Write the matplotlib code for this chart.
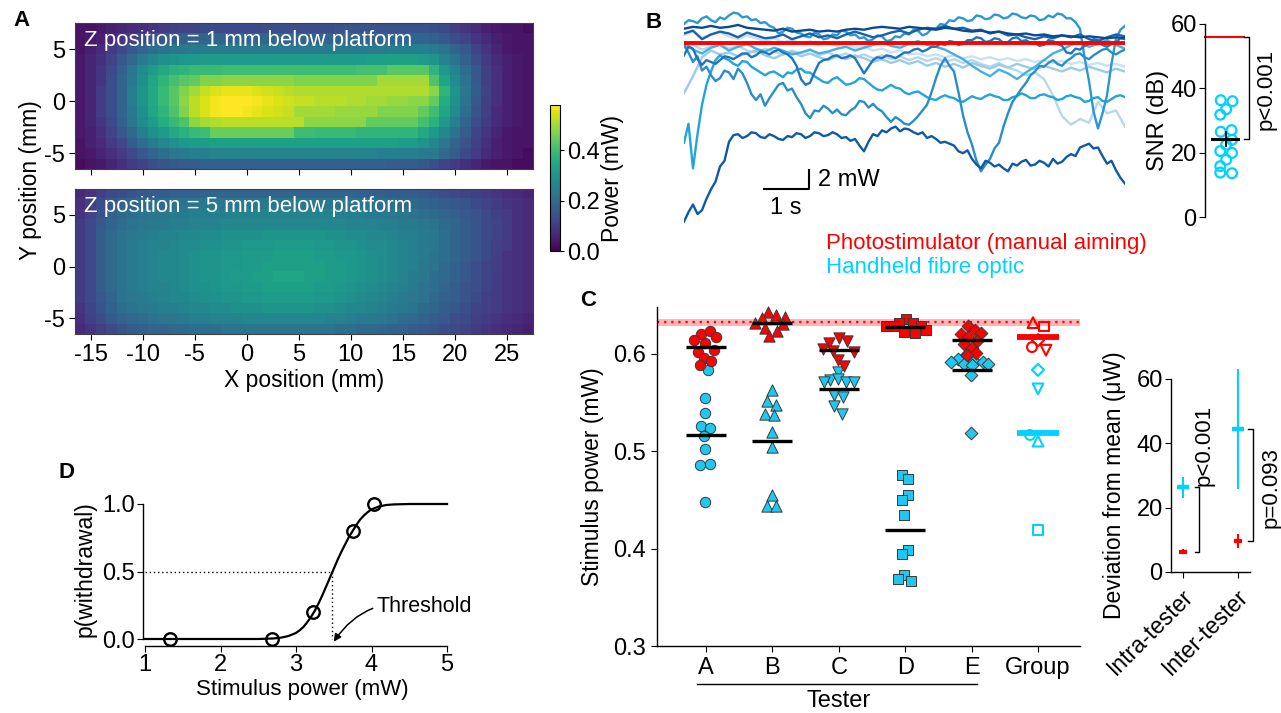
import matplotlib
matplotlib.use("Agg")
import matplotlib.pyplot as plt
import matplotlib.transforms as mtransforms
from matplotlib.ticker import FormatStrFormatter
import numpy as np

plt.rcParams["font.family"] = ["Liberation Sans Narrow", "Liberation Sans", "DejaVu Sans"]
plt.rcParams["font.size"] = 16
plt.rcParams["axes.unicode_minus"] = False
plt.rcParams["axes.linewidth"] = 1.0

W, H = 1281, 713
RED = "#ff0000"
CYAN = "#1ec8f0"
CYAN_OPEN = "#00d2ff"

# -------------------------
# Panel A data: power maps, hundredths of mW
# rows y = 7 ... -6 mm, cols x = -16 ... 27 mm
# -------------------------
POWER_Z1 = [
    [3, 3, 4, 5, 6, 7, 8, 9, 10, 11, 12, 12, 13, 13, 13, 13, 13, 13, 14, 14, 14, 14,
     14, 14, 14, 15, 15, 15, 15, 15, 15, 15, 15, 15, 14, 13, 11, 9, 7, 5, 4, 3, 3, 2],
    [3, 4, 5, 7, 9, 11, 13, 15, 16, 17, 18, 18, 19, 19, 19, 19, 19, 19, 19, 19, 19, 19,
     19, 19, 19, 19, 19, 19, 19, 19, 19, 19, 19, 19, 18, 16, 14, 12, 9, 7, 5, 4, 3, 3],
    [3, 5, 7, 10, 13, 16, 19, 21, 22, 23, 23, 24, 24, 24, 24, 24, 24, 24, 24, 24, 24, 24,
     24, 24, 24, 24, 24, 24, 24, 24, 25, 25, 25, 25, 24, 22, 19, 16, 12, 9, 6, 4, 3, 3],
    [4, 6, 8, 12, 16, 20, 24, 27, 29, 30, 31, 31, 32, 32, 32, 32, 32, 32, 32, 32, 32, 32,
     32, 32, 32, 32, 32, 32, 33, 33, 33, 33, 33, 32, 30, 26, 22, 18, 14, 10, 7, 5, 4, 3],
    [4, 6, 9, 13, 18, 23, 28, 32, 35, 37, 38, 39, 39, 39, 40, 40, 40, 40, 40, 40, 40, 40,
     40, 40, 40, 40, 40, 41, 41, 41, 43, 43, 43, 43, 38, 31, 26, 21, 16, 11, 8, 5, 4, 3],
    [4, 6, 9, 14, 19, 24, 29, 34, 38, 41, 43, 44, 47, 47, 48, 48, 48, 48, 48, 48, 48, 47,
     47, 47, 47, 47, 47, 47, 47, 50, 50, 50, 50, 50, 42, 34, 28, 22, 16, 11, 8, 5, 4, 3],
    [4, 6, 10, 14, 19, 25, 30, 35, 39, 43, 47, 50, 53, 55, 56, 56, 56, 55, 54, 53, 52, 51,
     51, 51, 51, 51, 51, 51, 51, 51, 51, 51, 51, 51, 48, 38, 30, 23, 17, 12, 8, 5, 4, 3],
    [4, 6, 10, 14, 19, 25, 30, 35, 39, 43, 48, 52, 55, 57, 58, 58, 58, 57, 56, 55, 54, 53,
     53, 52, 52, 52, 51, 51, 50, 50, 49, 49, 48, 48, 44, 36, 29, 22, 16, 11, 8, 5, 4, 3],
    [4, 6, 10, 14, 19, 24, 29, 34, 38, 42, 47, 52, 55, 57, 58, 58, 57, 56, 55, 54, 53, 50,
     50, 50, 50, 49, 49, 49, 49, 47, 47, 47, 47, 44, 40, 34, 28, 21, 15, 11, 7, 5, 4, 3],
    [4, 6, 9, 13, 18, 23, 28, 32, 36, 39, 42, 48, 50, 51, 52, 52, 52, 52, 52, 52, 52, 52,
     48, 48, 48, 48, 48, 48, 44, 44, 44, 44, 44, 41, 37, 31, 25, 19, 14, 10, 7, 5, 4, 3],
    [4, 5, 8, 12, 16, 20, 25, 29, 32, 35, 37, 39, 40, 45, 45, 45, 45, 45, 45, 45, 45, 40,
     40, 39, 39, 39, 39, 38, 38, 38, 38, 38, 38, 35, 31, 27, 22, 17, 12, 9, 6, 4, 3, 3],
    [3, 5, 7, 10, 13, 17, 21, 24, 27, 29, 31, 32, 32, 33, 33, 33, 33, 33, 33, 33, 33, 33,
     33, 33, 33, 33, 33, 33, 33, 33, 33, 32, 32, 30, 27, 23, 19, 15, 11, 8, 5, 4, 3, 3],
    [3, 4, 6, 8, 10, 13, 16, 19, 21, 23, 24, 25, 25, 26, 26, 26, 26, 26, 26, 26, 26, 26,
     26, 26, 26, 26, 26, 26, 26, 25, 25, 25, 25, 24, 23, 20, 17, 13, 10, 7, 5, 4, 3, 2],
    [2, 3, 4, 6, 8, 10, 12, 14, 15, 16, 17, 17, 18, 18, 18, 18, 18, 18, 18, 18, 18, 18,
     18, 18, 18, 18, 18, 18, 18, 18, 17, 17, 17, 16, 14, 12, 10, 8, 6, 4, 3, 3, 2, 2],
]

POWER_Z5 = [
    [7, 9, 11, 13, 14, 15, 16, 17, 17, 18, 18, 18, 19, 19, 19, 19, 19, 19, 19, 19, 19, 19,
     19, 19, 19, 19, 19, 18, 18, 18, 17, 17, 17, 16, 15, 14, 13, 12, 11, 10, 9, 8, 7, 6],
    [8, 11, 14, 16, 18, 19, 20, 21, 21, 22, 22, 22, 23, 23, 23, 23, 23, 23, 23, 23, 23, 23,
     23, 23, 23, 23, 22, 22, 22, 21, 21, 20, 20, 19, 18, 17, 16, 15, 13, 12, 10, 9, 8, 7],
    [9, 12, 15, 18, 20, 21, 22, 23, 23, 24, 24, 25, 25, 25, 25, 26, 26, 26, 26, 26, 26, 26,
     26, 26, 26, 25, 25, 25, 24, 24, 23, 23, 22, 21, 20, 19, 18, 16, 15, 13, 11, 10, 8, 7],
    [10, 13, 16, 19, 21, 22, 23, 24, 24, 25, 25, 26, 26, 26, 27, 27, 27, 27, 27, 27, 27, 27,
     27, 27, 27, 27, 26, 26, 26, 25, 25, 24, 24, 23, 22, 20, 19, 17, 15, 13, 12, 10, 8, 7],
    [10, 13, 17, 20, 22, 23, 24, 25, 26, 26, 27, 27, 28, 28, 29, 29, 29, 29, 30, 30, 30, 30,
     30, 30, 29, 29, 28, 28, 27, 27, 26, 25, 25, 24, 23, 21, 19, 17, 15, 13, 12, 10, 8, 7],
    [10, 13, 17, 20, 22, 24, 25, 26, 26, 27, 28, 28, 29, 29, 30, 30, 31, 31, 31, 32, 32, 32,
     32, 31, 31, 30, 30, 29, 28, 28, 27, 26, 25, 24, 23, 21, 19, 17, 15, 13, 11, 10, 8, 7],
    [10, 13, 17, 20, 22, 24, 25, 26, 27, 27, 28, 29, 30, 30, 31, 31, 32, 32, 32, 33, 33, 33,
     33, 32, 32, 31, 31, 30, 29, 28, 27, 26, 25, 24, 22, 21, 19, 17, 15, 13, 11, 9, 8, 7],
    [10, 13, 17, 20, 22, 24, 25, 26, 27, 27, 28, 29, 30, 30, 31, 31, 32, 32, 33, 33, 33, 33,
     33, 33, 32, 32, 31, 30, 29, 28, 27, 26, 25, 23, 22, 20, 18, 16, 14, 12, 11, 9, 8, 7],
    [10, 13, 17, 20, 22, 24, 25, 26, 27, 27, 28, 29, 30, 30, 31, 32, 32, 33, 33, 34, 34, 34,
     33, 33, 32, 32, 31, 30, 29, 28, 27, 26, 24, 23, 21, 20, 18, 16, 14, 12, 10, 9, 8, 7],
    [10, 13, 17, 20, 22, 24, 25, 26, 26, 27, 28, 29, 29, 30, 31, 31, 32, 32, 33, 33, 33, 33,
     33, 32, 32, 31, 30, 29, 28, 27, 26, 25, 24, 22, 21, 19, 17, 15, 14, 12, 10, 9, 8, 7],
    [10, 13, 16, 19, 22, 23, 24, 25, 26, 27, 27, 28, 29, 29, 30, 30, 31, 31, 32, 32, 32, 32,
     32, 31, 31, 30, 29, 28, 27, 26, 25, 24, 23, 22, 20, 18, 17, 15, 13, 11, 10, 9, 8, 7],
    [9, 12, 15, 18, 21, 22, 23, 24, 25, 25, 26, 27, 27, 28, 28, 29, 29, 29, 30, 30, 30, 30,
     30, 29, 29, 28, 27, 27, 26, 25, 24, 23, 22, 20, 19, 17, 16, 14, 12, 11, 10, 9, 8, 7],
    [8, 11, 14, 17, 19, 20, 21, 22, 23, 23, 24, 25, 25, 26, 26, 26, 27, 27, 27, 27, 27, 27,
     27, 27, 26, 26, 25, 24, 24, 23, 22, 21, 20, 19, 17, 16, 14, 13, 11, 10, 9, 8, 7, 6],
    [7, 9, 11, 13, 15, 17, 18, 19, 19, 20, 20, 21, 21, 21, 22, 22, 22, 22, 22, 22, 22, 22,
     22, 22, 22, 21, 21, 20, 20, 19, 18, 18, 17, 16, 15, 14, 13, 12, 10, 9, 8, 7, 6, 5],
]
MAP_X_TICKS = [-15, -10, -5, 0, 5, 10, 15, 20, 25]
MAP_Y_TICKS = [-5, 0, 5]
MAP_DEPTHS = [1, 5]

# -------------------------
# Panel B data: power traces (mW)
# coarse traces sampled every 0.2 s, fine traces every 0.1 s
# -------------------------
TRACE_T = [round(0.2 * i, 1) for i in range(50)]
TRACE_T_FINE = [round(0.1 * i, 1) for i in range(99)]
PHOTO_TRACE_MW = 20.0
TRACE_NAVY_LOW = [
    1.2, 2.2, 3.0, 2.0, 2.4, 3.6, 4.6, 5.4, 7.0, 7.6,
    9.6, 10.3, 10.4, 10.0, 10.2, 10.6, 10.5, 10.1, 10.0, 10.4,
    10.2, 9.9, 9.8, 10.2, 10.1, 10.5, 10.4, 10.0, 10.2, 10.6,
    10.5, 10.2, 10.3, 10.6, 10.4, 10.0, 10.1, 9.7, 9.9, 9.2,
    8.6, 9.6, 10.4, 10.2, 10.8, 10.6, 11.0, 11.2, 10.7, 11.0,
    10.9, 10.6, 10.4, 10.6, 10.0, 10.2, 9.9, 9.5, 9.6, 9.4,
    9.2, 8.6, 8.4, 8.7, 7.8, 7.2, 6.8, 7.6, 7.4, 7.0,
    7.2, 6.8, 6.5, 7.3, 7.1, 7.5, 7.7, 7.1, 7.2, 7.6,
    7.4, 7.0, 7.8, 7.3, 7.5, 8.0, 8.3, 8.1, 9.0, 9.2,
    9.4, 8.9, 9.0, 8.1, 7.3, 7.6, 6.6, 5.8, 5.2]
TRACE_DIPPER = [
    19.8, 19.0, 18.0, 18.6, 17.1, 17.5, 16.6, 16.0, 16.3, 17.1,
    16.9, 16.2, 17.3, 16.8, 15.8, 14.6, 14.0, 14.6, 13.4, 14.2,
    14.9, 15.6, 15.8, 15.0, 15.2, 14.3, 13.6, 12.6, 12.1, 12.9,
    12.8, 13.4, 13.1, 12.6, 13.0, 12.5, 12.4, 12.9, 13.2, 13.9,
    13.8, 13.2, 13.6, 13.1, 12.8, 12.2, 11.7, 12.2, 11.9, 11.5,
    11.4, 11.8, 12.3, 12.9, 13.5, 14.8, 16.3, 17.6, 18.4, 17.6,
    17.0, 14.8, 12.4, 10.6, 9.3, 7.6, 6.5, 7.2, 7.8, 8.9,
    9.5, 11.2, 12.6, 13.8, 14.5, 15.2, 15.8, 16.6, 17.0, 17.6,
    17.5, 17.9, 18.2, 17.8, 17.6, 18.1, 18.4, 18.8, 18.9, 18.5,
    18.3, 18.7, 19.0, 19.3, 19.4, 19.0, 18.8, 19.1, 19.3]
TRACE_CYAN = [
    9.5, 11.5, 6.8, 10.4, 13.5, 15.6, 17.0, 18.2, 18.7, 18.4,
    18.2, 17.8, 17.6, 18.1, 18.0, 17.5, 17.2, 16.9, 16.6, 16.9,
    17.0, 16.7, 16.4, 16.9, 16.8, 17.2, 17.3, 16.9, 16.9, 16.5,
    16.2, 15.9, 15.8, 16.2, 16.4, 16.0, 15.6, 15.7, 15.9, 16.3,
    16.2, 15.8, 15.4, 15.1, 15.0, 15.3, 15.6, 15.3, 15.2, 14.8,
    14.6, 14.8, 14.9, 14.6, 14.3, 14.1, 14.0, 14.3, 14.5, 14.3,
    14.2, 13.9, 13.8, 14.1, 14.4, 14.2, 14.1, 14.4, 14.6, 14.4,
    14.3, 14.0, 14.0, 14.3, 14.4, 14.7, 14.5, 14.2, 14.2, 14.5,
    14.6, 14.4, 14.3, 14.0, 14.1, 14.4, 14.5, 14.3, 14.2, 13.8,
    13.9, 14.2, 14.3, 13.9, 13.8, 14.1, 14.4, 14.5, 14.3]
TRACE_HIGH = [
    22.0, 22.4, 22.3, 22.1, 22.6, 22.8, 22.4, 22.2, 22.7, 22.5,
    22.9, 23.2, 23.1, 22.7, 22.8, 22.4, 22.5, 22.1, 22.2, 21.8,
    21.6, 21.0, 21.2, 21.6, 21.5, 21.1, 21.0, 20.7, 20.6, 21.1,
    20.9, 20.4, 20.5, 20.9, 20.8, 21.3, 21.2, 20.8, 20.9, 20.5,
    20.6, 20.2, 20.4, 20.8, 20.7, 20.2, 20.3, 20.7, 20.6, 21.0,
    20.9, 21.4, 21.3, 20.8, 21.0, 21.5, 21.5, 22.0, 21.9, 22.4,
    22.3, 22.7, 22.6, 22.3, 22.4, 22.9, 22.8, 22.5, 22.6, 23.0,
    22.9, 22.6, 22.7, 23.1, 23.0, 22.7, 22.6, 22.9, 22.8, 22.4,
    22.5, 22.9, 22.7, 23.1, 23.0, 22.6, 22.6, 22.2, 21.5, 18.5,
    16.0, 12.8, 11.0, 12.6, 14.5, 17.8, 20.5, 21.4, 21.8]
TRACE_BLUE = [
    18.7, 19.6, 19.4, 18.3, 17.7, 18.2, 18.0, 17.8, 18.2, 18.6,
    18.5, 18.3, 18.6, 18.9, 18.9, 18.5, 18.7, 19.1, 19.0, 18.8,
    19.1, 19.3, 19.0, 18.8, 18.4, 17.6, 16.2, 15.6, 15.8, 16.9,
    17.9, 18.2, 18.3, 18.6, 18.7, 18.4, 18.5, 18.7, 18.4, 17.6,
    16.8, 17.5, 18.2, 18.5, 18.4, 18.7, 18.6, 18.4, 18.7, 19.0,
    19.0, 19.3, 19.4, 19.1, 19.3, 19.6, 19.6, 19.9, 19.8, 20.2,
    20.1, 19.8, 19.9, 20.3, 20.3, 20.6, 20.5, 20.1, 20.2, 20.5,
    20.4, 20.0, 20.1, 20.5, 20.6, 20.2, 20.3, 20.0, 20.0, 19.7,
    19.8, 20.3, 20.2, 19.9, 19.7, 19.0, 18.9, 19.4, 19.3, 19.7,
    19.9, 20.4, 20.3, 19.8, 19.6, 19.9, 20.1, 20.5, 20.4]
TRACE_NAVY_TOP = [
    21.5, 21.7, 21.6, 21.8, 21.6, 21.7, 21.9, 21.6, 21.5, 21.4,
    21.3, 21.5, 21.2, 21.3, 21.4, 21.2, 21.3, 21.2, 21.4, 21.5,
    21.4, 21.6, 21.7, 21.6, 21.5, 21.7, 21.6, 21.5, 21.4, 21.6,
    21.5, 21.3, 21.2, 21.3, 21.1, 21.2, 21.0, 20.9, 21.0, 20.8,
    20.9, 20.7, 20.8, 20.7, 20.6, 20.7, 20.6, 20.5, 20.6, 20.5]
TRACE_DARK = [
    21.0, 21.3, 20.4, 20.9, 21.2, 21.0, 20.6, 21.1, 20.8, 20.5,
    20.6, 20.9, 20.4, 20.7, 21.0, 20.6, 20.8, 20.5, 20.9, 21.2,
    20.9, 20.6, 20.8, 21.1, 21.3, 21.0, 21.4, 21.6, 21.5, 21.8,
    21.5, 21.6, 21.3, 21.4, 21.0, 21.2, 20.8, 20.9, 20.6, 20.4,
    20.7, 20.5, 20.8, 20.6, 20.9, 20.4, 20.2, 20.6, 20.9, 20.7]
TRACE_LIGHT_1 = [
    14.7, 16.5, 18.5, 19.2, 18.8, 19.0, 18.6, 18.9, 19.2, 18.7,
    18.4, 18.8, 19.1, 18.6, 18.9, 18.5, 18.2, 18.6, 18.3, 18.7,
    18.4, 18.0, 18.3, 17.9, 18.2, 17.8, 18.1, 17.6, 17.9, 17.5,
    17.8, 17.4, 17.9, 17.6, 17.3, 17.7, 17.4, 17.8, 17.5, 17.2,
    17.6, 17.3, 17.0, 17.4, 17.1, 17.5, 17.2, 16.9, 17.3, 17.0]
TRACE_LIGHT_2 = [
    19.5, 19.8, 19.3, 19.6, 19.9, 19.4, 19.7, 19.2, 19.0, 19.4,
    19.1, 18.8, 19.2, 18.9, 19.3, 18.7, 19.0, 18.6, 18.9, 18.5,
    18.8, 18.4, 18.7, 18.3, 18.6, 18.2, 18.5, 18.1, 18.4, 18.0,
    18.3, 17.9, 18.2, 17.8, 17.5, 17.9, 17.4, 17.1, 16.6, 16.9,
    16.2, 14.5, 12.3, 11.4, 12.0, 11.6, 13.8, 12.6, 12.9, 11.2]
TRACE_LIGHT_3 = [
    20.8, 21.2, 20.6, 20.9, 21.1, 20.7, 20.4, 20.8, 20.5, 20.2,
    20.5, 20.1, 20.3, 19.9, 20.2, 19.8, 20.0, 19.7, 19.9, 19.5,
    19.6, 19.2, 19.4, 19.0, 19.2, 18.8, 18.9, 18.6, 18.8, 18.5,
    18.7, 18.4, 18.6, 18.3, 18.5, 18.2, 18.4, 18.1, 18.3, 18.0,
    18.2, 17.9, 18.1, 17.8, 18.0, 17.7, 17.9, 17.6, 17.8, 17.5]
TRACE_MID = [
    20.0, 19.3, 18.9, 19.5, 19.8, 19.2, 19.6, 19.9, 19.4, 19.1,
    19.5, 19.2, 18.8, 19.0, 19.3, 18.9, 19.1, 19.4, 19.6, 19.2,
    19.5, 19.8, 20.1, 19.7, 19.5, 19.9, 20.2, 19.8, 19.6, 19.3,
    18.8, 18.3, 17.6, 17.0, 16.5, 17.2, 16.8, 16.2, 16.9, 17.5,
    18.2, 18.9, 19.3, 19.8, 20.1, 19.6, 19.9, 20.3, 19.8, 19.4]

SNR_DB = [36.3, 36.0, 33.5, 31.8, 27.0, 26.5, 24.0, 22.5, 20.5, 19.9, 17.8, 15.8, 13.8, 13.6]
SNR_PHOTO_DB = 56.0

# -------------------------
# Panel C data: thresholds (mW) per tester
# -------------------------
TESTERS = ["A", "B", "C", "D", "E"]
PHOTO_A = [0.6205, 0.623, 0.617, 0.614, 0.611, 0.604, 0.602, 0.596, 0.593, 0.588]
PHOTO_B = [0.6428, 0.640, 0.638, 0.6366, 0.6315, 0.6308, 0.6264, 0.6229, 0.6185]
PHOTO_C = [0.611, 0.616, 0.6127, 0.6047, 0.6024, 0.6014, 0.594, 0.587]
PHOTO_D = [0.636, 0.6314, 0.6314, 0.628, 0.628, 0.628, 0.6222, 0.6212, 0.624]
PHOTO_E = [0.628, 0.624, 0.621, 0.620, 0.617, 0.613, 0.610, 0.606, 0.601, 0.599]
FIBRE_A = [0.5836, 0.555, 0.539, 0.526, 0.524, 0.516, 0.502, 0.486, 0.487, 0.448]
FIBRE_B = [0.563, 0.551, 0.547, 0.5385, 0.5375, 0.5197, 0.5039, 0.4554, 0.4434, 0.4434]
FIBRE_C = [0.5809, 0.573, 0.574, 0.5715, 0.571, 0.5705, 0.558, 0.556, 0.546, 0.5385]
FIBRE_D = [0.4759, 0.4718, 0.4554, 0.4503, 0.4349, 0.3983, 0.3949, 0.3733, 0.3689, 0.3672]
FIBRE_E = [0.599, 0.5945, 0.593, 0.592, 0.592, 0.590, 0.589, 0.588, 0.5785, 0.5187]
PHOTO_REF_MW = 0.6325
PHOTO_REF_SD = 0.0035

# horizontal spread of the points, in pixels
PHOTO_A_DX = [-5, 4, 10, -12, -1, 8, -8, -2, 5, -6]
PHOTO_B_DX = [-4, 4, 13, -10, -17, 11, -7, 5, -3]
PHOTO_C_DX = [-10, 0, 8, -16, -6, 15, -1, 5]
PHOTO_D_DX = [1, -6, 8, -19, -11, 16, -1, 10, 21]
PHOTO_E_DX = [-4, 3, 9, -11, -4, 5, -8, 0, 4, -5]
FIBRE_A_DX = [2, -1, -1, -5, 4, -2, -1, -6, 4, -1]
FIBRE_B_DX = [0, -5, 4, -7, 2, 0, 0, 0, -5, 4]
FIBRE_C_DX = [-1, -9, -1, 7, 15, -15, -5, 4, -5, 3]
FIBRE_D_DX = [-3, 3, 3, -3, -1, 3, -3, -1, -7, 6]
FIBRE_E_DX = [-6, -14, 2, -21, 11, 16, -8, 0, -1, -1]
GROUP_PHOTO_DX = [-6, -5, 8, 6, 0]
GROUP_FIBRE_DX = [-8, 0, 0, 0, 0]
MARKERS = {"A": "o", "B": "^", "C": "v", "D": "s", "E": "D"}
MARKER_AREA = {"A": 56, "B": 66, "C": 66, "D": 48, "E": 42}

DEV_LABELS = ["Intra-tester", "Inter-tester"]
DEV_PHOTO = [6.3, 9.6]
DEV_PHOTO_ERR = [0.5, 1.8]
DEV_FIBRE = [26.3, 44.5]
DEV_FIBRE_ERR = [3.0, 18.3]
DEV_P = ["p<0.001", "p=0.093"]

# -------------------------
# Panel D data
# -------------------------
D_STIM = [1.33, 2.68, 3.22, 3.76, 4.03]
D_PWITH = [0.0, 0.0, 0.2, 0.8, 1.0]
D_FIT_X = [1.0, 2.0, 2.5, 2.7, 2.8, 2.9, 3.0, 3.05, 3.1, 3.15, 3.2, 3.25, 3.3, 3.35, 3.4,
           3.45, 3.5, 3.55, 3.6, 3.65, 3.7, 3.75, 3.8, 3.85, 3.9, 3.95, 4.0, 4.1, 4.2,
           4.3, 4.5, 5.0]
D_FIT_Y = [0.0, 0.0, 0.0, 0.004, 0.01, 0.022, 0.045, 0.065, 0.09, 0.125, 0.165, 0.21,
           0.265, 0.325, 0.39, 0.455, 0.52, 0.585, 0.645, 0.70, 0.755, 0.80, 0.845, 0.885,
           0.915, 0.94, 0.96, 0.982, 0.993, 0.997, 1.0, 1.0]
D_THRESHOLD = 3.48


def px_axes(fig, left, top, right, bottom):
    return fig.add_axes([left / W, 1 - bottom / H, (right - left) / W, (bottom - top) / H])


def fig_text(fig, x, y, s, **kw):
    return fig.text(x / W, 1 - y / H, s, **kw)


def panel_letter(fig, x, y, s):
    fig_text(fig, x, y, s, ha="center", va="center", fontsize=16, fontweight="bold",
             family=["Liberation Sans", "DejaVu Sans"])


# -------------------------
# Panel A
# -------------------------
def draw_panel_a(fig):
    panel_letter(fig, 21, 21, "A")
    boxes = [(75, 23, 533, 169), (75, 189, 533, 334)]
    img = None
    for box, grid, depth in zip(boxes, (POWER_Z1, POWER_Z5), MAP_DEPTHS):
        ax = px_axes(fig, *box)
        img = ax.imshow(np.array(grid) / 100.0, cmap="viridis", vmin=0, vmax=0.58,
                        extent=(-16.5, 27.5, -6.5, 7.5), aspect="auto",
                        interpolation="nearest")
        ax.set_xticks(MAP_X_TICKS)
        ax.set_yticks(MAP_Y_TICKS)
        ax.set_yticklabels([str(v) for v in MAP_Y_TICKS])
        ax.tick_params(labelsize=17, length=4, pad=3)
        ax.text(0.02, 0.955, f"Z position = {depth} mm below platform", transform=ax.transAxes,
                color="white", va="top", ha="left", fontsize=16)
        for s in ax.spines.values():
            s.set_color("#404040")
            s.set_linewidth(0.8)
        if depth == 1:
            ax.tick_params(axis="x", labelbottom=False)
        else:
            ax.set_xticklabels([str(v) for v in MAP_X_TICKS])
    fig_text(fig, 304, 381, "X position (mm)", ha="center", va="center", fontsize=16.5)
    fig_text(fig, 31, 180, "Y position (mm)", ha="center", va="center", rotation=90,
             fontsize=16.5)

    cax = px_axes(fig, 550, 105, 560, 251)
    cb = fig.colorbar(img, cax=cax, ticks=[0.0, 0.2, 0.4])
    cb.ax.yaxis.set_major_formatter(FormatStrFormatter("%.1f"))
    cb.ax.tick_params(labelsize=17, length=3, pad=2)
    cb.outline.set_linewidth(0.8)
    fig_text(fig, 612, 178, "Power (mW)", ha="center", va="center", rotation=90,
             fontsize=16.5)


# -------------------------
# Panel B
# -------------------------
def draw_panel_b(fig):
    panel_letter(fig, 654, 23, "B")
    ax = px_axes(fig, 684, 10, 1125, 225)
    ax.set_xlim(0, 9.8)
    ax.set_ylim(20 - (225 - 43) / 9.5, 20 + (43 - 10) / 9.5)
    ax.axis("off")
    traces = [
        (TRACE_T, TRACE_LIGHT_3, "#c9e1f2"), (TRACE_T, TRACE_LIGHT_2, "#b5d8ee"),
        (TRACE_T, TRACE_LIGHT_1, "#9ccbe7"), (TRACE_T, TRACE_MID, "#47afe0"),
        (TRACE_T_FINE, TRACE_CYAN, "#22a5da"), (TRACE_T_FINE, TRACE_HIGH, "#2b98d3"),
        (TRACE_T_FINE, TRACE_DIPPER, "#2a8dcb"), (TRACE_T_FINE, TRACE_BLUE, "#1f76bc"),
        (TRACE_T, TRACE_DARK, "#1763ab"), (TRACE_T, TRACE_NAVY_TOP, "#0b4a92"),
        (TRACE_T_FINE, TRACE_NAVY_LOW, "#0e5aa6"),
    ]
    for ts, vals, color in traces:
        ax.plot(ts, vals, color=color, lw=1.7, solid_joinstyle="round")
    ax.plot(TRACE_T, [PHOTO_TRACE_MW] * len(TRACE_T), color=RED, lw=2.8, zorder=5)

    # scale bar: 1 s, 2 mW
    ax.plot([1.78, 2.78, 2.78], [4.63, 4.63, 6.63], color="k", lw=1.5, clip_on=False)
    ax.text(2.98, 5.6, "2 mW", ha="left", va="center", fontsize=17)
    ax.text(2.25, 2.6, "1 s", ha="center", va="center", fontsize=17)

    fig_text(fig, 826, 243, "Photostimulator (manual aiming)", color=RED, ha="left",
             va="center", fontsize=16)
    fig_text(fig, 826, 268, "Handheld fibre optic", color=CYAN_OPEN, ha="left",
             va="center", fontsize=16)

    # SNR inset
    sx = px_axes(fig, 1205, 24, 1250, 217)
    sx.set_xlim(0, 1)
    sx.set_ylim(0, 60)
    for side in ("top", "right", "bottom"):
        sx.spines[side].set_visible(False)
    sx.set_xticks([])
    sx.set_yticks([0, 20, 40, 60])
    sx.tick_params(labelsize=17, length=4, pad=2)
    snr_dx = [-0.12, 0.14, 0.0, -0.13, 0.12, -0.12, 0.13, 0.0, -0.13, 0.13, 0.0, -0.13, -0.13, 0.13]
    sx.scatter([0.47 + d for d in snr_dx], SNR_DB, s=50, facecolors="none",
               edgecolors=CYAN_OPEN, linewidths=1.6, clip_on=False, zorder=3)
    m = float(np.mean(SNR_DB))
    sem = float(np.std(SNR_DB, ddof=1) / np.sqrt(len(SNR_DB)))
    sx.plot([0.16, 0.73], [m, m], color="k", lw=2.2, zorder=4)
    sx.plot([0.47, 0.47], [m - sem, m + sem], color="k", lw=1.3, zorder=4)
    sx.plot([0.0, 0.87], [SNR_PHOTO_DB] * 2, color=RED, lw=1.5, clip_on=False)
    sx.plot([0.87, 0.98, 0.98, 0.87], [SNR_PHOTO_DB, SNR_PHOTO_DB, m, m], color="k",
            lw=1.0, clip_on=False)
    sx.text(1.36, 39.8, "p<0.001", rotation=90, ha="center", va="center", fontsize=16,
            clip_on=False)
    fig_text(fig, 1158, 120, "SNR (dB)", rotation=90, ha="center", va="center", fontsize=17)


# -------------------------
# Panel C
# -------------------------
def draw_panel_c(fig):
    panel_letter(fig, 588, 300, "C")
    ax = px_axes(fig, 657, 307, 1080, 646)
    unit = 66.4
    ax.set_xlim(-49 / unit, 374 / unit)
    ax.set_ylim(0.3, 0.648)
    ax.spines["top"].set_visible(False)
    ax.spines["right"].set_visible(False)

    ax.axhspan(PHOTO_REF_MW - PHOTO_REF_SD, PHOTO_REF_MW + PHOTO_REF_SD, color="#ffb5b5",
               lw=0, zorder=0)
    ax.axhline(PHOTO_REF_MW, color=RED, ls=(0, (1, 2.2)), lw=1.6, zorder=1)

    photo = dict(zip(TESTERS, [PHOTO_A, PHOTO_B, PHOTO_C, PHOTO_D, PHOTO_E]))
    fibre = dict(zip(TESTERS, [FIBRE_A, FIBRE_B, FIBRE_C, FIBRE_D, FIBRE_E]))
    photo_dx = dict(zip(TESTERS, [PHOTO_A_DX, PHOTO_B_DX, PHOTO_C_DX, PHOTO_D_DX, PHOTO_E_DX]))
    fibre_dx = dict(zip(TESTERS, [FIBRE_A_DX, FIBRE_B_DX, FIBRE_C_DX, FIBRE_D_DX, FIBRE_E_DX]))

    means_photo, means_fibre = [], []
    for i, t in enumerate(TESTERS):
        for vals, dx, color, store in ((fibre[t], fibre_dx[t], CYAN, means_fibre),
                                       (photo[t], photo_dx[t], RED, means_photo)):
            xs = [i + d / unit for d in dx]
            ax.scatter(xs, vals, marker=MARKERS[t], s=MARKER_AREA[t], c=color,
                       edgecolors="#3a3a3a", linewidths=0.7, zorder=3, clip_on=False)
            mu = float(np.mean(vals))
            store.append(mu)
            ax.plot([i - 0.3, i + 0.3], [mu, mu], color="k", lw=2.4, zorder=4,
                    solid_capstyle="butt")

    g = len(TESTERS)
    for means, dxs, color in ((means_photo, GROUP_PHOTO_DX, RED),
                              (means_fibre, GROUP_FIBRE_DX, CYAN_OPEN)):
        for t, mu, d in zip(TESTERS, means, dxs):
            ax.scatter([g + d / unit], [mu], marker=MARKERS[t], s=MARKER_AREA[t] * 0.9,
                       facecolors="none", edgecolors=color, linewidths=1.5, zorder=3)
        gm = float(np.mean(means))
        ax.plot([g - 0.32, g + 0.32], [gm, gm], color=color, lw=4.2, zorder=4,
                solid_capstyle="butt")

    ax.set_xticks(range(len(TESTERS) + 1))
    ax.set_xticklabels(TESTERS + ["Group"])
    ax.set_yticks([0.3, 0.4, 0.5, 0.6])
    ax.yaxis.set_major_formatter(FormatStrFormatter("%.1f"))
    ax.tick_params(labelsize=17, length=4, pad=4)

    trans = mtransforms.blended_transform_factory(ax.transData, ax.transAxes)
    ax.plot([-9 / unit, 271 / unit], [-38 / 339] * 2, color="k", lw=1.0, transform=trans,
            clip_on=False)
    ax.text(2.0, -55 / 339, "Tester", transform=trans, ha="center", va="center",
            fontsize=17)
    fig_text(fig, 593, 477, "Stimulus power (mW)", rotation=90, ha="center", va="center",
             fontsize=16.5)

    # deviation inset
    dx_ax = px_axes(fig, 1171, 379, 1250, 572)
    dx_ax.set_xlim(-12 / 55, 67 / 55)
    dx_ax.set_ylim(0, 60)
    dx_ax.spines["top"].set_visible(False)
    dx_ax.spines["right"].set_visible(False)
    for i in range(len(DEV_LABELS)):
        dx_ax.plot([i - 0.11, i + 0.11], [DEV_FIBRE[i]] * 2, color=CYAN_OPEN, lw=3.2,
                   solid_capstyle="butt", clip_on=False)
        dx_ax.plot([i, i], [DEV_FIBRE[i] - DEV_FIBRE_ERR[i], DEV_FIBRE[i] + DEV_FIBRE_ERR[i]],
                   color=CYAN_OPEN, lw=1.5, clip_on=False)
        dx_ax.plot([i - 0.08, i + 0.08], [DEV_PHOTO[i]] * 2, color=RED, lw=3.0,
                   solid_capstyle="butt", clip_on=False)
        dx_ax.plot([i, i], [DEV_PHOTO[i] - DEV_PHOTO_ERR[i], DEV_PHOTO[i] + DEV_PHOTO_ERR[i]],
                   color=RED, lw=1.5, clip_on=False)
    for i, (bx, tx, ty) in enumerate([(0.29, 0.38, 39.2), (1.27, 1.6, 26.1)]):
        dx_ax.plot([bx - 0.08, bx, bx, bx - 0.08],
                   [DEV_FIBRE[i], DEV_FIBRE[i], DEV_PHOTO[i], DEV_PHOTO[i]],
                   color="k", lw=1.0, clip_on=False)
        dx_ax.text(tx, ty, DEV_P[i], rotation=90, ha="center", va="center", fontsize=16,
                   clip_on=False)
    dx_ax.set_yticks([0, 20, 40, 60])
    dx_ax.set_xticks([0, 1])
    dx_ax.set_xticklabels([])
    dx_ax.tick_params(labelsize=17, length=4, pad=2)
    base = mtransforms.blended_transform_factory(dx_ax.transData, dx_ax.transAxes)
    shift = mtransforms.ScaledTranslation(0.07, -0.21, fig.dpi_scale_trans)
    for i, lab in enumerate(DEV_LABELS):
        dx_ax.text(i, 0, lab, transform=base + shift, rotation=45, ha="right", va="center",
                   rotation_mode="anchor", fontsize=16.5, clip_on=False)
    fig_text(fig, 1115, 485, "Deviation from mean (\u03bcW)", rotation=90, ha="center",
             va="center", fontsize=16.5)


# -------------------------
# Panel D
# -------------------------
def draw_panel_d(fig):
    panel_letter(fig, 67, 472, "D")
    ax = px_axes(fig, 145, 504, 447, 639)
    ax.set_xlim(1, 5)
    ax.set_ylim(0, 1)
    ax.spines["top"].set_visible(False)
    ax.spines["right"].set_visible(False)
    ax.spines["left"].set_position(("outward", 1.5))
    ax.spines["bottom"].set_position(("outward", 5))
    ax.plot(D_FIT_X, D_FIT_Y, color="k", lw=1.6, clip_on=False)
    ax.plot(D_STIM, D_PWITH, "o", ms=9, mfc="none", mec="k", mew=1.7, clip_on=False, zorder=4)
    ax.plot([1, D_THRESHOLD], [0.5, 0.5], color="k", ls=(0, (1, 2)), lw=1.0)
    ax.plot([D_THRESHOLD, D_THRESHOLD], [0.5, 0.0], color="k", ls=(0, (1, 2)), lw=1.0,
            clip_on=False)
    ax.annotate("Threshold", xy=(D_THRESHOLD + 0.02, -0.02), xytext=(4.07, 0.24),
                ha="left", va="center", fontsize=15.5, annotation_clip=False,
                arrowprops=dict(arrowstyle="-|>", color="k", lw=1.1, mutation_scale=11,
                                shrinkA=1, shrinkB=0, connectionstyle="arc3,rad=0.35"))
    ax.set_xticks([1, 2, 3, 4, 5])
    ax.set_yticks([0.0, 0.5, 1.0])
    ax.yaxis.set_major_formatter(FormatStrFormatter("%.1f"))
    ax.tick_params(labelsize=17, length=4, pad=2)
    fig_text(fig, 302, 689, "Stimulus power (mW)", ha="center", va="center", fontsize=16)
    fig_text(fig, 85, 569, "p(withdrawal)", rotation=90, ha="center", va="center",
             fontsize=16.5)


def main():
    fig = plt.figure(figsize=(W / 100, H / 100), dpi=100)
    draw_panel_a(fig)
    draw_panel_b(fig)
    draw_panel_c(fig)
    draw_panel_d(fig)
    fig.savefig("out.png", dpi=100)


if __name__ == "__main__":
    main()
